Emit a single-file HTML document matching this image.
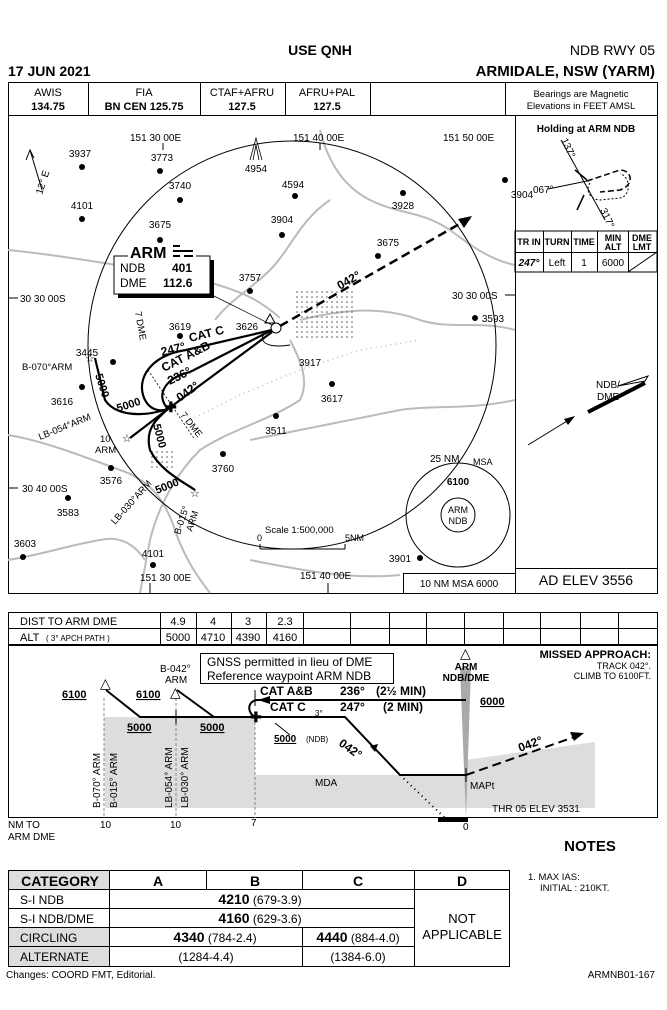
<!DOCTYPE html>
<html><head><meta charset="utf-8"><style>
html,body{margin:0;padding:0;background:#fff}
svg{display:block}
text{font-family:"Liberation Sans",Arial,sans-serif;fill:#000}
.b{font-weight:bold}
</style></head><body>
<svg width="667" height="1010" viewBox="0 0 667 1010" xmlns="http://www.w3.org/2000/svg">
<!-- header -->
<text x="320" y="55" font-size="14" class="b" text-anchor="middle">USE QNH</text>
<text x="655" y="55" font-size="14" text-anchor="end">NDB RWY 05</text>
<text x="8" y="76" font-size="14" class="b">17 JUN 2021</text>
<text x="655" y="76" font-size="15" class="b" text-anchor="end">ARMIDALE, NSW (YARM)</text>
<!-- freq box -->
<rect x="8.5" y="82.5" width="649" height="33" fill="none" stroke="#000"/>
<g stroke="#000"><line x1="88.5" y1="82" x2="88.5" y2="115"/><line x1="200.5" y1="82" x2="200.5" y2="115"/><line x1="285.5" y1="82" x2="285.5" y2="115"/><line x1="370.5" y1="82" x2="370.5" y2="115"/><line x1="505.5" y1="82" x2="505.5" y2="115"/></g>
<g font-size="11" text-anchor="middle">
<text x="48" y="96">AWIS</text><text x="48" y="110" class="b">134.75</text>
<text x="144" y="96">FIA</text><text x="144" y="110" class="b">BN CEN 125.75</text>
<text x="242" y="96">CTAF+AFRU</text><text x="242" y="110" class="b">127.5</text>
<text x="327" y="96">AFRU+PAL</text><text x="327" y="110" class="b">127.5</text>
<text x="581" y="97" font-size="9.5">Bearings are Magnetic</text><text x="581" y="109" font-size="9.5">Elevations in FEET AMSL</text>
</g>
<!-- plan box -->
<rect x="8.5" y="115.5" width="649" height="478" fill="none" stroke="#000"/>
<line x1="515.5" y1="115" x2="515.5" y2="593" stroke="#000"/>
<!-- terrain lines gray -->
<g fill="none" stroke="#bbb" stroke-width="2">
<path d="M320 130 C330 170 350 190 370 200 C400 215 420 210 450 230 C470 245 490 260 515 265"/>
<path d="M8 250 C60 255 150 270 200 280 C240 290 260 300 280 318"/>
<path d="M300 320 C340 310 380 305 420 320 C450 330 480 320 515 330"/>
<path d="M290 340 C300 360 310 380 300 400 C270 420 230 430 200 450 C180 470 160 500 150 540 L140 593"/>
<path d="M8 435 C40 440 80 455 120 470 C150 480 165 500 175 530 C185 560 200 580 210 593"/>
<path d="M250 440 C300 430 350 420 400 410 C430 405 470 410 515 400"/>
<path d="M8 560 C40 555 70 545 100 540 C120 535 135 545 145 560"/>
<path d="M250 560 C300 570 350 580 400 575"/>
<path d="M215 320 C230 300 250 290 270 270 C290 250 300 220 330 200"/>
</g>
<path d="M190 420 L240 395 L300 370 L360 350 L420 340" fill="none" stroke="#bbb" stroke-width="1.5" stroke-dasharray="1 4"/>
<!-- dotted town -->
<g fill="#000">
<rect x="295" y="290" width="60" height="50" fill="url(#dots)"/>
<rect x="150" y="450" width="25" height="20" fill="url(#dots)"/>
</g>
<defs><pattern id="dots" width="5" height="5" patternUnits="userSpaceOnUse"><circle cx="2" cy="2" r="0.8" fill="#555"/></pattern></defs>
<!-- big circle -->
<circle cx="292" cy="345" r="204" fill="none" stroke="#000" stroke-width="1"/>
<!-- lat/long labels -->
<g font-size="10">
<text x="130" y="141">151 30 00E</text><text x="293" y="141">151 40 00E</text><text x="443" y="141">151 50 00E</text>
<text x="20" y="302">30 30 00S</text><text x="452" y="299">30 30 00S</text>
<text x="22" y="492">30 40 00S</text>
<text x="140" y="581">151 30 00E</text><text x="300" y="579">151 40 00E</text>
</g>
<g stroke="#000"><line x1="8" y1="298" x2="18" y2="298"/><line x1="505" y1="295" x2="515" y2="295"/><line x1="8" y1="488" x2="18" y2="488"/><line x1="150" y1="583" x2="150" y2="593"/><line x1="328" y1="583" x2="328" y2="593"/><line x1="163" y1="143" x2="163" y2="150"/><line x1="320" y1="143" x2="320" y2="150"/></g>
<!-- north arrow -->
<g stroke="#000" fill="none"><line x1="42" y1="190" x2="30" y2="150"/><path d="M26 160 L30 150 L34 158"/></g>
<text x="0" y="0" font-size="10" transform="translate(42 195) rotate(-72)">12° E</text>
<!-- spot heights -->
<g font-size="10" text-anchor="middle">
<g fill="#000">
<circle cx="82" cy="167" r="3"/><circle cx="160" cy="171" r="3"/><circle cx="180" cy="200" r="3"/><circle cx="82" cy="219" r="3"/><circle cx="295" cy="196" r="3"/><circle cx="160" cy="240" r="3"/><circle cx="282" cy="235" r="3"/><circle cx="403" cy="193" r="3"/><circle cx="505" cy="180" r="3"/><circle cx="378" cy="256" r="3"/><circle cx="250" cy="291" r="3"/><circle cx="180" cy="336" r="3"/><circle cx="475" cy="318" r="3"/><circle cx="113" cy="362" r="3"/><circle cx="82" cy="387" r="3"/><circle cx="332" cy="384" r="3"/><circle cx="276" cy="416" r="3"/><circle cx="223" cy="454" r="3"/><circle cx="111" cy="468" r="3"/><circle cx="68" cy="498" r="3"/><circle cx="23" cy="557" r="3"/><circle cx="153" cy="565" r="3"/><circle cx="420" cy="558" r="3"/>
</g>
<text x="80" y="157">3937</text><text x="162" y="161">3773</text><text x="180" y="189">3740</text><text x="82" y="209">4101</text><text x="293" y="188">4594</text><text x="160" y="228">3675</text><text x="282" y="223">3904</text><text x="403" y="209">3928</text><text x="522" y="198">3904</text><text x="388" y="246">3675</text><text x="250" y="281">3757</text><text x="180" y="330">3619</text><text x="247" y="330">3626</text><text x="493" y="322">3593</text><text x="87" y="356">3445</text><text x="62" y="405">3616</text><text x="310" y="366">3917</text><text x="332" y="402">3617</text><text x="276" y="434">3511</text><text x="223" y="472">3760</text><text x="111" y="484">3576</text><text x="68" y="516">3583</text><text x="25" y="547">3603</text><text x="153" y="557">4101</text><text x="400" y="562">3901</text><text x="256" y="172">4954</text>
</g>
<!-- 4954 tower -->
<g stroke="#000" fill="none" stroke-width="0.8"><path d="M250 160 L256 138 L262 160 M253 160 L256 145 L259 160"/></g>
<!-- ARM box -->
<rect x="118" y="260" width="96" height="38" fill="#000"/>
<rect x="114" y="256" width="96" height="38" fill="#fff" stroke="#000"/>
<rect x="128" y="244" width="68" height="16" fill="#fff"/>
<text x="130" y="258" font-size="16" class="b">ARM</text>
<g stroke="#000" stroke-width="2"><line x1="173" y1="246" x2="180" y2="246"/><line x1="173" y1="251" x2="193" y2="251"/><line x1="173" y1="256" x2="180" y2="256"/><line x1="184" y1="256" x2="193" y2="256"/></g>
<text x="120" y="272" font-size="12">NDB</text><text x="172" y="272" font-size="12" class="b">401</text>
<text x="120" y="287" font-size="12">DME</text><text x="163" y="287" font-size="12" class="b">112.6</text>
<line x1="212" y1="295" x2="272" y2="325" stroke="#000" stroke-width="0.7"/>
<!-- NDB symbol -->
<path d="M265 323 L270 314 L275 323 Z" fill="none" stroke="#000"/>
<circle cx="276" cy="328" r="5" fill="none" stroke="#000"/>
<!-- missed approach dashed -->
<line x1="280" y1="326" x2="470" y2="218" stroke="#000" stroke-width="2.5" stroke-dasharray="9 5"/>
<path d="M472 216 L458 219 L464 228 Z" fill="#000"/>
<text transform="translate(340 290) rotate(-30)" font-size="12" class="b">042°</text>
<!-- inbound tracks -->
<g stroke="#000" stroke-width="2.2" fill="none">
<line x1="186" y1="350" x2="272" y2="330"/>
<line x1="190" y1="372" x2="272" y2="330"/>
<line x1="168" y1="409" x2="272" y2="332"/>
<path d="M186 350 C150 355 135 380 145 400 C150 410 160 412 168 409"/>
<path d="M190 372 C165 378 155 395 168 409"/>
<path d="M95 358 L105 400 C115 415 140 418 168 409"/>
<path d="M168 409 C155 420 145 430 150 450 C160 470 180 480 195 490"/>
<line x1="168" y1="409" x2="130" y2="438"/>
</g>
<path d="M272 330 C255 335 260 350 290 345" fill="none" stroke="#000"/>
<line x1="148" y1="370" x2="195" y2="440" stroke="#000" stroke-dasharray="2 2" stroke-width="0.8"/>
<text transform="translate(165 412)" font-size="14" class="b">✚</text>
<g font-size="12" class="b">
<text transform="translate(190 342) rotate(-14)">CAT C</text>
<text transform="translate(162 356) rotate(-14)">247°</text>
<text transform="translate(164 372) rotate(-27)">CAT A&amp;B</text>
<text transform="translate(170 385) rotate(-27)">236°</text>
<text transform="translate(180 402) rotate(-36)">042°</text>
<text transform="translate(95 375) rotate(72)" font-size="11">5000</text>
<text transform="translate(118 412) rotate(-18)" font-size="11">5000</text>
<text transform="translate(153 425) rotate(75)" font-size="11">5000</text>
<text transform="translate(157 494) rotate(-22)" font-size="11">5000</text>
</g>
<g font-size="9.5">
<text transform="translate(135 312) rotate(80)">7 DME</text>
<text transform="translate(180 415) rotate(52)">7 DME</text>
<text x="22" y="370">B-070°ARM</text>
<text transform="translate(40 440) rotate(-22)">LB-054°ARM</text>
<text x="100" y="442">10</text><text x="95" y="453">ARM</text>
<text transform="translate(115 525) rotate(-48)">LB-030°ARM</text>
<text transform="translate(180 535) rotate(-72)">B-015°</text>
<text transform="translate(192 532) rotate(-72)">ARM</text>
</g>
<g font-size="11" fill="#000"><text x="85" y="362">☆</text><text x="122" y="442">☆</text><text x="190" y="497">☆</text></g>
<!-- scale -->
<text x="265" y="533" font-size="9.5">Scale 1:500,000</text>
<g stroke="#000"><line x1="260" y1="549" x2="345" y2="549"/><line x1="260" y1="544" x2="260" y2="549"/><line x1="345" y1="544" x2="345" y2="549"/></g>
<text x="257" y="541" font-size="9">0</text><text x="345" y="541" font-size="9">5NM</text>
<!-- MSA -->
<circle cx="458" cy="515" r="52" fill="none" stroke="#000"/>
<circle cx="458" cy="515" r="17" fill="none" stroke="#000"/>
<text x="458" y="513" font-size="9" text-anchor="middle">ARM</text><text x="458" y="524" font-size="9" text-anchor="middle">NDB</text>
<text x="458" y="485" font-size="10" class="b" text-anchor="middle">6100</text>
<text x="430" y="462" font-size="10">25 NM</text><text x="473" y="465" font-size="9">MSA</text>
<rect x="403.5" y="573.5" width="112" height="20" fill="none" stroke="#000"/>
<text x="459" y="587" font-size="10" text-anchor="middle">10 NM MSA 6000</text>
<line x1="515" y1="568.5" x2="657" y2="568.5" stroke="#000"/>
<text x="586" y="585" font-size="14" text-anchor="middle">AD ELEV 3556</text>
<!-- holding panel -->
<text x="586" y="132" font-size="10" class="b" text-anchor="middle">Holding at ARM NDB</text>
<g stroke="#000" fill="none">
<line x1="561" y1="140" x2="605" y2="220"/>
<line x1="548" y1="189" x2="587" y2="181"/>
<path d="M587 181 L620 170 C632 170 635 185 620 190 L600 192" stroke-dasharray="6 3" stroke-width="1.5"/>
<path d="M590 183 C585 190 590 200 600 200 L620 198 C632 196 630 175 620 174" stroke-dasharray="2 2"/>
<line x1="575" y1="170" x2="587" y2="180" stroke-width="1.5"/>
<line x1="577" y1="210" x2="584" y2="195" stroke-width="1.5"/>
</g>
<text transform="translate(561 140) rotate(65)" font-size="10">137°</text>
<text x="533" y="193" font-size="10">067°</text>
<text transform="translate(600 210) rotate(65)" font-size="10">317°</text>
<rect x="515" y="231" width="142" height="41" fill="none" stroke="#000"/>
<line x1="515" y1="252.5" x2="657" y2="252.5" stroke="#000"/>
<g stroke="#000"><line x1="543.5" y1="231" x2="543.5" y2="272"/><line x1="571.5" y1="231" x2="571.5" y2="272"/><line x1="597.5" y1="231" x2="597.5" y2="272"/><line x1="628.5" y1="231" x2="628.5" y2="272"/><line x1="628" y1="272" x2="657" y2="252"/></g>
<g font-size="9" class="b" text-anchor="middle"><text x="529" y="245">TR IN</text><text x="557" y="245">TURN</text><text x="584" y="245">TIME</text><text x="613" y="241">MIN</text><text x="613" y="250">ALT</text><text x="642" y="241">DME</text><text x="642" y="250">LMT</text></g>
<g font-size="10" text-anchor="middle"><text x="529" y="266" class="b" font-style="italic">247°</text><text x="557" y="266">Left</text><text x="584" y="266">1</text><text x="613" y="266">6000</text></g>
<!-- NDB/DME symbol right -->
<text x="596" y="388" font-size="10">NDB/</text><text x="597" y="400" font-size="10">DME</text>
<line x1="588" y1="412" x2="645" y2="383" stroke="#000" stroke-width="4"/>
<path d="M618 386 L648 376 L645 381 Z" fill="none" stroke="#000"/>
<line x1="528" y1="445" x2="572" y2="418" stroke="#000"/>
<path d="M575 416 L564 419 L568 425 Z" fill="#000"/>
<!-- profile table -->
<rect x="8.5" y="612.5" width="649" height="32" fill="none" stroke="#000"/>
<line x1="8" y1="628.5" x2="657" y2="628.5" stroke="#000"/>
<g stroke="#000"><line x1="160.5" y1="612" x2="160.5" y2="645"/><line x1="196.5" y1="612" x2="196.5" y2="645"/><line x1="231.5" y1="612" x2="231.5" y2="645"/><line x1="266.5" y1="612" x2="266.5" y2="645"/><line x1="303.5" y1="612" x2="303.5" y2="645"/><line x1="350.5" y1="612" x2="350.5" y2="645"/><line x1="389.5" y1="612" x2="389.5" y2="645"/><line x1="426.5" y1="612" x2="426.5" y2="645"/><line x1="464.5" y1="612" x2="464.5" y2="645"/><line x1="503.5" y1="612" x2="503.5" y2="645"/><line x1="540.5" y1="612" x2="540.5" y2="645"/><line x1="580.5" y1="612" x2="580.5" y2="645"/><line x1="618.5" y1="612" x2="618.5" y2="645"/></g>
<g font-size="11"><text x="20" y="625">DIST TO ARM DME</text><text x="20" y="641">ALT</text><text x="46" y="641" font-size="8">( 3° APCH PATH )</text></g>
<g font-size="11" text-anchor="middle"><text x="178" y="625">4.9</text><text x="213" y="625">4</text><text x="248" y="625">3</text><text x="285" y="625">2.3</text><text x="178" y="641">5000</text><text x="213" y="641">4710</text><text x="248" y="641">4390</text><text x="285" y="641">4160</text></g>
<!-- profile box -->
<rect x="8.5" y="645.5" width="649" height="172" fill="none" stroke="#000"/>
<path d="M104 717 L255 717 L255 775 L465 775 L465 760 L595 742 L595 808 L105 808 Z" fill="#ddd"/>
<path d="M460 668 L471 668 L466 818 Z" fill="#aaa"/>
<g stroke="#888" stroke-dasharray="3 2"><line x1="104" y1="698" x2="104" y2="818"/><line x1="176" y1="698" x2="176" y2="818"/><line x1="255" y1="717" x2="255" y2="818"/></g>
<g stroke="#000" stroke-width="2" fill="none">
<path d="M106 690 L140 717 L345 717 L400 775 L466 775"/>
<path d="M177 690 L214 717"/>
<line x1="466" y1="700" x2="258" y2="700"/>
<path d="M258 700 C248 700 246 712 255 717"/>
<line x1="466" y1="775" x2="580" y2="735" stroke-dasharray="9 5"/>
</g>
<path d="M258 700 L270 696 L270 704 Z" fill="#000"/>
<path d="M584 733 L570 732 L574 741 Z" fill="#000"/>
<path d="M375 752 L370 746 L378 744 Z" fill="#000"/>
<line x1="400" y1="775" x2="445" y2="818" stroke="#000" stroke-dasharray="1 4" stroke-width="2"/>
<rect x="438" y="818" width="30" height="4" fill="#000"/>
<g stroke="#000"><line x1="176" y1="710" x2="176" y2="724"/><line x1="255" y1="690" x2="255" y2="706"/><line x1="466" y1="768" x2="466" y2="782"/><line x1="290" y1="735" x2="275" y2="723"/></g>
<text x="250" y="722" font-size="14" class="b">✚</text>
<g font-size="11" class="b"><text x="62" y="698" text-decoration="underline">6100</text><text x="136" y="698" text-decoration="underline">6100</text><text x="127" y="731" text-decoration="underline">5000</text><text x="200" y="731" text-decoration="underline">5000</text><text x="480" y="705" text-decoration="underline">6000</text><text x="274" y="742" font-size="10" text-decoration="underline">5000</text>
<text x="260" y="695" font-size="12">CAT A&amp;B</text><text x="340" y="695" font-size="12">236°</text><text x="376" y="695" font-size="12">(2½ MIN)</text>
<text x="270" y="711" font-size="12">CAT C</text><text x="340" y="711" font-size="12">247°</text><text x="383" y="711" font-size="12">(2 MIN)</text>
<text transform="translate(338 745) rotate(35)" font-size="12">042°</text>
<text transform="translate(520 752) rotate(-20)" font-size="12">042°</text>
<text x="466" y="670" text-anchor="middle" font-size="10">ARM</text><text x="466" y="681" text-anchor="middle" font-size="10">NDB/DME</text>
<text x="651" y="658" text-anchor="end" font-size="11">MISSED APPROACH:</text></g>
<text x="306" y="742" font-size="8">(NDB)</text><text x="315" y="716" font-size="8">3°</text>
<g font-size="10"><text x="100" y="688" font-size="14">△</text><text x="170" y="697" font-size="14">△</text><text x="460" y="658" font-size="14">△</text>
<text x="160" y="672">B-042°</text><text x="165" y="683">ARM</text>
<text x="651" y="669" text-anchor="end" font-size="9">TRACK 042°.</text><text x="651" y="679" text-anchor="end" font-size="9">CLIMB  TO 6100FT.</text>
<text x="315" y="786">MDA</text><text x="470" y="789">MAPt</text><text x="492" y="812">THR 05 ELEV 3531</text>
<text transform="translate(100 808) rotate(-90)">B-070° ARM</text><text transform="translate(117 808) rotate(-90)">B-015° ARM</text>
<text transform="translate(172 808) rotate(-90)">LB-054° ARM</text><text transform="translate(188 808) rotate(-90)">LB-030° ARM</text>
<text x="8" y="828">NM TO</text><text x="8" y="840">ARM DME</text><text x="100" y="828">10</text><text x="170" y="828">10</text><text x="251" y="826">7</text><text x="463" y="830">0</text></g>
<rect x="200.5" y="653.5" width="193" height="30" fill="#fff" stroke="#000"/>
<text x="207" y="666" font-size="12">GNSS permitted in lieu of DME</text><text x="207" y="680" font-size="12">Reference waypoint ARM NDB</text>
<!-- notes -->
<text x="590" y="851" font-size="15" class="b" text-anchor="middle">NOTES</text>
<text x="528" y="880" font-size="9.5">1. MAX IAS:</text><text x="540" y="891" font-size="9.5">INITIAL  : 210KT.</text>
<!-- minima -->
<rect x="8.5" y="870.5" width="501" height="96" fill="none" stroke="#000"/>
<rect x="9" y="871" width="100" height="18" fill="#ddd"/><rect x="9" y="927" width="100" height="39" fill="#ddd"/>
<g stroke="#000"><line x1="8" y1="889.5" x2="510" y2="889.5"/><line x1="8" y1="908.5" x2="414" y2="908.5"/><line x1="8" y1="927.5" x2="414" y2="927.5"/><line x1="8" y1="946.5" x2="414" y2="946.5"/>
<line x1="109.5" y1="870" x2="109.5" y2="966"/><line x1="206.5" y1="870" x2="206.5" y2="889"/><line x1="302.5" y1="870" x2="302.5" y2="889"/><line x1="302.5" y1="927" x2="302.5" y2="966"/><line x1="414.5" y1="870" x2="414.5" y2="966"/></g>
<g font-size="14" class="b" text-anchor="middle"><text x="60" y="886">CATEGORY</text><text x="158" y="886">A</text><text x="255" y="886">B</text><text x="358" y="886">C</text><text x="462" y="886">D</text></g>
<g font-size="12"><text x="20" y="904">S-I  NDB</text><text x="20" y="923">S-I  NDB/DME</text><text x="20" y="942">CIRCLING</text><text x="20" y="961">ALTERNATE</text></g>
<text x="260" y="904" font-size="12" text-anchor="middle"><tspan class="b" font-size="14">4210</tspan> (679-3.9)</text>
<text x="260" y="923" font-size="12" text-anchor="middle"><tspan class="b" font-size="14">4160</tspan> (629-3.6)</text>
<text x="215" y="942" font-size="12" text-anchor="middle"><tspan class="b" font-size="14">4340</tspan> (784-2.4)</text>
<text x="358" y="942" font-size="12" text-anchor="middle"><tspan class="b" font-size="14">4440</tspan> (884-4.0)</text>
<text x="206" y="961" font-size="12" text-anchor="middle">(1284-4.4)</text><text x="358" y="961" font-size="12" text-anchor="middle">(1384-6.0)</text>
<text x="462" y="923" font-size="13" text-anchor="middle">NOT</text><text x="462" y="939" font-size="13" text-anchor="middle">APPLICABLE</text>
<text x="6" y="978" font-size="10">Changes: COORD FMT, Editorial.</text>
<text x="655" y="978" font-size="10" text-anchor="end">ARMNB01-167</text>
</svg>
</body></html>
